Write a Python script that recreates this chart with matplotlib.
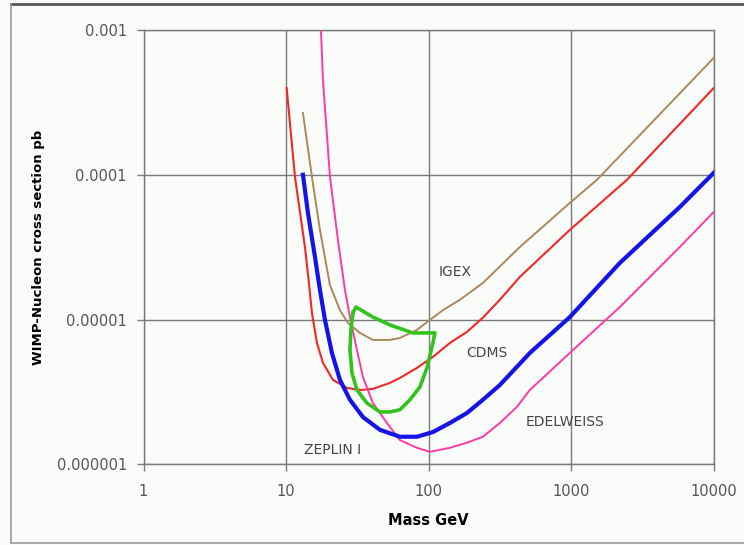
import numpy as np
import matplotlib.pyplot as plt
from matplotlib.lines import Line2D

# ---- data (mass in GeV, cross section in pb) ----
cdms_mass = [10.1, 11.55, 13.57, 14.47, 15.19, 16.47, 18.15, 21.33, 26.74, 32.98, 40.69, 53.54, 62.91,
             82.79, 107.2, 141.1, 185.6, 240.4, 316.2, 436.8, 979, 2458, 10000]
cdms_xs = [3.97e-4, 9.66e-5, 3.17e-5, 1.79e-5, 1.11e-5, 6.89e-6, 5.02e-6, 3.83e-6, 3.37e-6, 3.26e-6,
           3.32e-6, 3.65e-6, 3.95e-6, 4.63e-6, 5.52e-6, 6.89e-6, 8.21e-6, 1.03e-5, 1.37e-5, 1.97e-5,
           4.16e-5, 9.21e-5, 3.97e-4]

igex_mass = [13.14, 15.19, 17.29, 20.32, 23.88, 27.18, 32.98, 40.69, 53.54, 62.91, 82.79, 102.1, 126.0,
             165.8, 240.4, 436.8, 979, 1514, 10000]
igex_xs = [2.67e-4, 9.66e-5, 4.16e-5, 1.73e-5, 1.16e-5, 9.47e-6, 8.08e-6, 7.23e-6, 7.23e-6, 7.46e-6,
           8.48e-6, 9.94e-6, 1.16e-5, 1.37e-5, 1.79e-5, 3.17e-5, 6.39e-5, 9.21e-5, 6.41e-4]

zeplin_mass = [13.14, 14.24, 15.95, 17.29, 18.75, 20.98, 23.88, 28.07, 34.62, 45.55, 62.91, 82.79, 107.2,
               141.1, 185.6, 240.4, 316.2, 416.1, 513.3, 979, 2195, 5785, 10000]
zeplin_xs = [1.0e-4, 5.45e-5, 2.71e-5, 1.60e-5, 9.94e-6, 5.88e-6, 3.83e-6, 2.79e-6, 2.12e-6, 1.73e-6,
             1.55e-6, 1.55e-6, 1.67e-6, 1.93e-6, 2.26e-6, 2.79e-6, 3.53e-6, 4.71e-6, 5.88e-6, 1.04e-5,
             2.46e-5, 5.99e-5, 1.03e-4]

edel_mass = [17.57, 18.15, 20.32, 23.12, 25.89, 28.07, 31.42, 34.62, 40.69, 51.01, 62.91, 82.79, 102.1,
             141.1, 185.6, 240.4, 316.2, 416.1, 513.3, 979, 2195, 5785, 10000]
edel_xs = [1.0e-3, 4.52e-4, 9.66e-5, 3.55e-5, 1.60e-5, 1.04e-5, 6.17e-6, 4.01e-6, 2.65e-6, 1.93e-6,
           1.47e-6, 1.30e-6, 1.22e-6, 1.30e-6, 1.41e-6, 1.55e-6, 1.93e-6, 2.49e-6, 3.26e-6, 5.88e-6,
           1.22e-5, 3.17e-5, 5.53e-5]

# closed allowed region
dama_mass = [29.46, 30.93, 40.69, 53.54, 77.62, 110.7, 107.2, 97.3, 86.9, 73.94, 62.91, 53.54, 45.55,
             36.93, 31.42, 28.99, 28.07, 28.52, 29.46]
dama_xs = [1.11e-5, 1.22e-5, 1.04e-5, 9.18e-6, 8.08e-6, 8.08e-6, 6.89e-6, 4.63e-6, 3.42e-6, 2.79e-6,
           2.38e-6, 2.30e-6, 2.30e-6, 2.65e-6, 3.26e-6, 4.28e-6, 6.17e-6, 8.48e-6, 1.11e-5]

x_ticks = [1, 10, 100, 1000, 10000]
x_ticklabels = ["1", "10", "100", "1000", "10000"]
y_ticks = [1e-6, 1e-5, 1e-4, 1e-3]
y_ticklabels = ["0.000001", "0.00001", "0.0001", "0.001"]

bg = '#fafcfa'
grid_col = '#7a7a7a'

fig = plt.figure(figsize=(7.44, 5.45), dpi=100, facecolor=bg)
ax = fig.add_axes([143.5 / 744, 1 - 464.3 / 545, (713.7 - 143.5) / 744, (464.3 - 30) / 545])
ax.set_facecolor(bg)
ax.set_xscale('log')
ax.set_yscale('log')
ax.set_xlim(1, 10000)
ax.set_ylim(1e-6, 1e-3)

ax.plot(cdms_mass, cdms_xs, color='#f02828', lw=1.5, zorder=3)
ax.plot(igex_mass, igex_xs, color='#a88a5c', lw=1.4, zorder=3)
ax.plot(edel_mass, edel_xs, color='#ff3aa8', lw=1.4, zorder=3)
ax.plot(zeplin_mass, zeplin_xs, color='#1414e6', lw=3.0, zorder=4)
ax.plot(dama_mass, dama_xs, color='#33c21f', lw=2.6, zorder=5, solid_joinstyle='round')

# axes styling
ax.set_xticks(x_ticks)
ax.set_xticklabels(x_ticklabels)
ax.set_yticks(y_ticks)
ax.set_yticklabels(y_ticklabels)
ax.minorticks_off()
ax.tick_params(axis='both', which='major', direction='out', length=5, width=1,
               color=grid_col, labelcolor='#555555', labelsize=10.5)
ax.tick_params(axis='x', pad=9)
ax.tick_params(axis='y', pad=7)
ax.grid(True, which='major', color=grid_col, lw=1.0)
for s in ax.spines.values():
    s.set_color(grid_col)
    s.set_linewidth(1.0)

ax.set_xlabel('Mass GeV', fontsize=10.5, fontweight='bold', labelpad=10)
ax.set_ylabel('WIMP-Nucleon cross section pb', fontsize=9.5, fontweight='bold', labelpad=8)

# curve labels
lab_kw = dict(fontsize=10, color='#444444', ha='center', va='center', zorder=6)
ax.text(21.33, 1.26e-6, 'ZEPLIN I', **lab_kw)
ax.text(256, 5.88e-6, 'CDMS', **lab_kw)
ax.text(903, 1.96e-6, 'EDELWEISS', **lab_kw)
ax.text(153, 2.13e-5, 'IGEX', **lab_kw)

# outer frame of the figure
fig.add_artist(Line2D([11 / 744, 1.0], [1 - 4 / 545, 1 - 4 / 545], color='#555555', lw=2))
fig.add_artist(Line2D([11 / 744, 11 / 744], [1 - 4 / 545, 1 - 543 / 545], color='#9a9a9a', lw=1.2))
fig.add_artist(Line2D([11 / 744, 1.0], [1 - 543 / 545, 1 - 543 / 545], color='#9a9a9a', lw=1.2))

fig.savefig('out.png', dpi=100, facecolor=bg)
